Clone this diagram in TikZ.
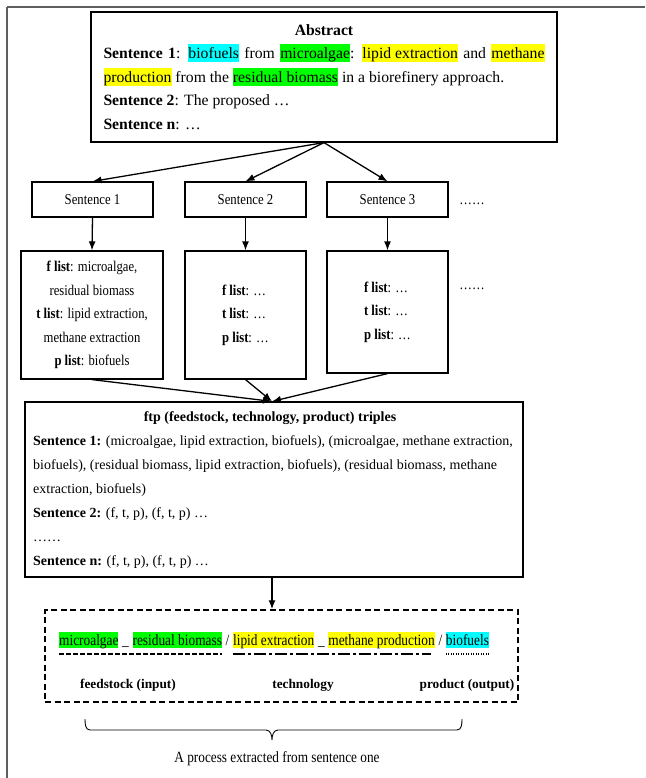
\documentclass[tikz,border=0pt]{standalone}
\usepackage{fontspec}
\setmainfont{Liberation Serif}
\newfontfamily\condfont{Liberation Serif}[FakeStretch=0.85]
\usetikzlibrary{arrows.meta}
\definecolor{hlgreen}{RGB}{0,255,0}
\definecolor{hlyellow}{RGB}{255,255,0}
\definecolor{hlcyan}{RGB}{0,255,255}
\definecolor{framegray}{RGB}{95,95,95}
\newcommand{\hlx}[2]{{\setlength{\fboxsep}{0pt}\colorbox{#1}{\rule[-3.5pt]{0pt}{18pt}#2}}}
\newcommand{\fabs}{\fontsize{15.7}{23.5}\selectfont}
\newcommand{\fsent}{\condfont\fontsize{15}{15}\selectfont}
\newcommand{\flist}{\condfont\fontsize{14.9}{23.6}\selectfont}
\newcommand{\fftp}{\fontsize{14}{24}\selectfont}
\newcommand{\fproc}{\condfont\fontsize{15.7}{16}\selectfont}
\newcommand{\flab}{\fontsize{13.3}{16}\selectfont}
\begin{document}
\begin{tikzpicture}[x=1pt,y=-1pt,
  box/.style={draw,line width=1.2pt,inner sep=0pt},
  arr/.style={line width=1.3pt,-{Latex[length=9pt,width=7pt]}},
  seg/.style={inner sep=0pt,text height=13.5pt,text depth=3.2pt,anchor=base west,font=\fproc},
  uline/.style={line width=2.2pt}
]
\useasboundingbox (0,0) rectangle (645,778);
% outer frame
\draw[framegray,line width=2pt] (6.5,7.5) -- (645,7.5);
\draw[framegray,line width=1.2pt] (7,7) -- (7,778);

% abstract
\node[box,minimum width=466pt,minimum height=130pt,font=\fabs] (abs) at (324,77) {\parbox{441pt}{%
{\centering\textbf{Abstract}\par}
\textbf{Sentence 1}: \hlx{hlcyan}{biofuels} from \hlx{hlgreen}{microalgae}: \hlx{hlyellow}{lipid extraction} and \hlx{hlyellow}{methane}\linebreak
\hlx{hlyellow}{production} from the \hlx{hlgreen}{residual biomass} in a biorefinery approach.\par
\textbf{Sentence 2}: The proposed …\par
\textbf{Sentence n}: …}};

% sentence boxes
\node[box,minimum width=121pt,minimum height=35pt,font=\fsent] (s1) at (92.5,199.5) {Sentence 1};
\node[box,minimum width=121pt,minimum height=35pt,font=\fsent] (s2) at (245.5,199.5) {Sentence 2};
\node[box,minimum width=121pt,minimum height=35pt,font=\fsent] (s3) at (387.5,199.5) {Sentence 3};
\node[anchor=base,font=\flist] (dots1) at (472,204) {……};

\draw[arr] (abs.south) -- (s1.north);
\draw[arr] (abs.south) -- (s2.north);
\draw[arr] (abs.south) -- (s3.north);

% list boxes
\node[box,minimum width=142pt,minimum height=128pt,align=center,font=\flist] (l1) at (92,315)
  {\textbf{f list}: microalgae,\\ residual biomass\\ \textbf{t list}: lipid extraction,\\ methane extraction\\ \textbf{p list}: biofuels};
\node[box,minimum width=121pt,minimum height=128pt,align=flush left,font=\flist] (l2) at (245.5,315)
  {\textbf{f list}: …\\ \textbf{t list}: …\\ \textbf{p list}: …};
\node[box,minimum width=121pt,minimum height=122pt,align=flush left,font=\flist] (l3) at (387.5,312)
  {\textbf{f list}: …\\ \textbf{t list}: …\\ \textbf{p list}: …};
\node[anchor=base,font=\flist] (dots2) at (472,289) {……};

\draw[arr] (s1.south) -- (l1.north);
\draw[arr] (s2.south) -- (l2.north);
\draw[arr] (s3.south) -- (l3.north);

% ftp box
\node[box,minimum width=498pt,minimum height=175pt] (ftp) at (274,489.5) {};
\node[font=\fftp] (ftptitle) at (270,418.5) {\textbf{ftp (feedstock, technology, product) triples}};
\node[font=\fftp,align=flush left,anchor=west,inner sep=0pt] (ftpbody) at (33,502.5)
  {\textbf{Sentence 1:} (microalgae, lipid extraction, biofuels), (microalgae, methane extraction,\\
   biofuels), (residual biomass, lipid extraction, biofuels), (residual biomass, methane\\
   extraction, biofuels)\\
   \textbf{Sentence 2:} (f, t, p), (f, t, p) …\\
   ……\\
   \textbf{Sentence n:} (f, t, p), (f, t, p) …};
\coordinate (ftpin) at ([xshift=-2pt]ftp.north);
\coordinate (ftpout) at ([xshift=-2pt]ftp.south);
\draw[arr] (l1.south) -- (ftpin);
\draw[arr] (l2.south) -- (ftpin);
\draw[arr] (l3.south) -- (ftpin);

% process box
\node[draw,line width=1.5pt,dash pattern=on 6pt off 3.5pt,minimum width=473pt,minimum height=92pt,inner sep=0pt] (proc) at (281.5,656) {};
\draw[arr] (ftpout) -- (ftpout |- proc.north);

\node[seg,fill=hlgreen] (w1) at (59,645) {microalgae};
\node[seg] (u1) at (w1.base east) {\mbox{\ \_\ }};
\node[seg,fill=hlgreen] (w2) at (u1.base east) {residual biomass};
\node[seg] (sl1) at (w2.base east) {\mbox{\ /\ }};
\node[seg,fill=hlyellow] (w3) at (sl1.base east) {lipid extraction};
\node[seg] (u2) at (w3.base east) {\mbox{\ \_\ }};
\node[seg,fill=hlyellow] (w4) at (u2.base east) {methane production};
\node[seg] (sl2) at (w4.base east) {\mbox{\ /\ }};
\node[seg,fill=hlcyan] (w5) at (sl2.base east) {biofuels};

\draw[uline,dash pattern=on 5pt off 2pt] ([yshift=-5.5pt]w1.south west) -- ([yshift=-5.5pt]w2.south east);
\draw[uline,dash pattern=on 12pt off 3pt on 3pt off 3pt] ([yshift=-5.5pt]w3.south west) -- ([yshift=-5.5pt,xshift=-4pt]w4.south east);
\draw[uline,line width=2pt,dash pattern=on 1.2pt off 1.3pt] ([yshift=-5.5pt]w5.south west) -- ([yshift=-5.5pt]w5.south east);

\node[font=\flab] (lf) at (128,685) {\textbf{feedstock (input)}};
\node[font=\flab] (lt) at (303,685) {\textbf{technology}};
\node[font=\flab] (lp) at (467,685) {\textbf{product (output)}};

% brace
\draw[line width=0.9pt] (85,719) to[out=-90,in=180] (90,730) -- (266,730) to[out=0,in=90] (272,740)
  to[out=90,in=180] (278,730) -- (457,730) to[out=0,in=-90] (462,719);
\node[font=\condfont\fontsize{15.6}{16}\selectfont] (cap) at (277,759) {A process extracted from sentence one};
\end{tikzpicture}
\end{document}
